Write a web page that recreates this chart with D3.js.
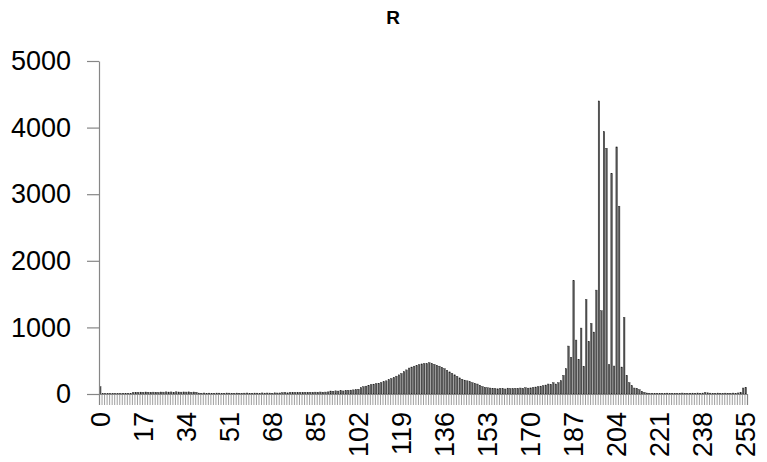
<!DOCTYPE html>
<html>
<head>
<meta charset="utf-8">
<script src="https://cdn.jsdelivr.net/npm/d3@7"></script>
<style>
  html, body { margin: 0; padding: 0; background: #fff; }
  svg { display: block; }
</style>
</head>
<body>
<svg id="chart" width="767" height="462"></svg>
<script>
const chartTitle = "R";
const categories = d3.range(256);
const counts = [
  // 0-12
  110, 8, 6, 7, 6, 8, 7, 6, 8, 7, 9, 8, 10,
  // 13-23
  22, 25, 24, 28, 26, 30, 27, 25, 28, 26, 24,
  // 24-38
  30, 28, 32, 29, 31, 27, 33, 30, 28, 31, 29, 32, 27, 30, 26,
  // 39-71
  14, 12, 15, 11, 13, 12, 10, 14, 13, 11, 12, 15, 13, 12, 11, 14, 12, 10, 13, 15, 12, 11, 14, 13, 12, 16, 13, 15, 14, 12, 18, 15, 16,
  // 72-90
  20, 22, 18, 24, 21, 23, 20, 25, 22, 26, 24, 27, 23, 28, 25, 30, 26, 29, 32,
  // 91-102
  45, 42, 48, 44, 50, 46, 52, 55, 58, 62, 66, 72,
  // 103-155
  95, 110, 118, 128, 140, 148, 155, 162, 172, 185, 198, 215, 232, 250, 268, 288, 308, 335, 362, 390,
  405, 418, 428, 440, 452, 458, 455, 470, 458, 445, 432, 418, 400, 380, 356, 332, 310, 288, 265, 242,
  222, 208, 198, 184, 170, 160, 150, 132, 112, 100, 94, 90, 86,
  // 156-175
  82, 78, 85, 80, 76, 88, 82, 79, 86, 84, 90, 85, 95, 88, 92, 98, 105, 110, 118, 125,
  // 176-186
  135, 150, 145, 170, 150, 170, 200, 280, 380, 720, 550,
  // 187-216
  1700, 810, 520, 990, 415, 1420, 790, 1060, 930, 1560, 4400, 1250, 3940, 3690, 440, 3310, 420, 3710, 2820, 405,
  1150, 280, 170, 125, 90, 85, 65, 40, 25, 15,
  // 217-253
  12, 10, 11, 9, 12, 10, 11, 13, 10, 12, 11, 9, 12, 14, 11, 10, 12, 13, 11, 15, 12, 14, 22, 18, 13,
  12, 11, 14, 12, 10, 13, 12, 11, 14, 12, 16, 20,
  // 254-255
  90, 100
];
const xTickLabels = [0, 17, 34, 51, 68, 85, 102, 119, 136, 153, 170, 187, 204, 221, 238, 255];
const yTickValues = [0, 1000, 2000, 3000, 4000, 5000];

const svg = d3.select("#chart");
const plotLeft = 99, plotRight = 747, plotTop = 61, plotBottom = 394;
const axisColor = "#868686";
const fontFamily = "'Liberation Sans', Arial, sans-serif";

const x = d3.scaleBand().domain(categories).range([plotLeft, plotRight]).paddingInner(0.4).paddingOuter(0.2);
const xb = d3.scaleLinear().domain([0, categories.length]).range([plotLeft, plotRight]);
const y = d3.scaleLinear().domain([0, 5000]).range([plotBottom, plotTop]);

// title
svg.append("text")
  .attr("x", 393).attr("y", 24)
  .attr("text-anchor", "middle")
  .style("font-family", fontFamily)
  .style("font-weight", "bold")
  .style("font-size", "19px")
  .text(chartTitle);

// bars
svg.append("g").selectAll("rect")
  .data(counts)
  .join("rect")
  .attr("x", (d, i) => x(categories[i]))
  .attr("width", x.bandwidth())
  .attr("y", d => y(d))
  .attr("height", d => y(0) - y(d))
  .attr("fill", "#555555")
  .attr("stroke", "#222")
  .attr("stroke-width", 0.4);

// category tick marks
const tickAxis = svg.append("g")
  .attr("transform", `translate(0,${plotBottom})`)
  .call(d3.axisBottom(xb).tickValues(d3.range(categories.length + 1)).tickSize(11).tickFormat(""));
tickAxis.selectAll("line").attr("stroke", axisColor).attr("stroke-width", 0.8);
tickAxis.select(".domain").attr("stroke", axisColor).attr("stroke-width", 1.2);

// x labels
const labelAxis = svg.append("g")
  .attr("transform", `translate(0,${plotBottom})`)
  .call(d3.axisBottom(x).tickValues(xTickLabels).tickSize(0));
labelAxis.select(".domain").remove();
labelAxis.selectAll("text")
  .attr("transform", "rotate(-90)")
  .attr("x", -18)
  .attr("y", 0)
  .attr("dy", "0.36em")
  .style("text-anchor", "end")
  .style("font-family", fontFamily)
  .style("font-size", "27px")
  .attr("fill", "#000");

// y axis
const yAxis = svg.append("g")
  .attr("transform", `translate(${plotLeft},0)`)
  .call(d3.axisLeft(y).tickValues(yTickValues).tickFormat(d3.format("d")).tickSize(12).tickPadding(16).tickSizeOuter(0));
yAxis.select(".domain").attr("stroke", axisColor).attr("stroke-width", 1.2);
yAxis.selectAll("line").attr("stroke", axisColor).attr("stroke-width", 1.2);
yAxis.selectAll("text")
  .style("font-family", fontFamily)
  .style("font-size", "27px")
  .attr("fill", "#000");
</script>
</body>
</html>
